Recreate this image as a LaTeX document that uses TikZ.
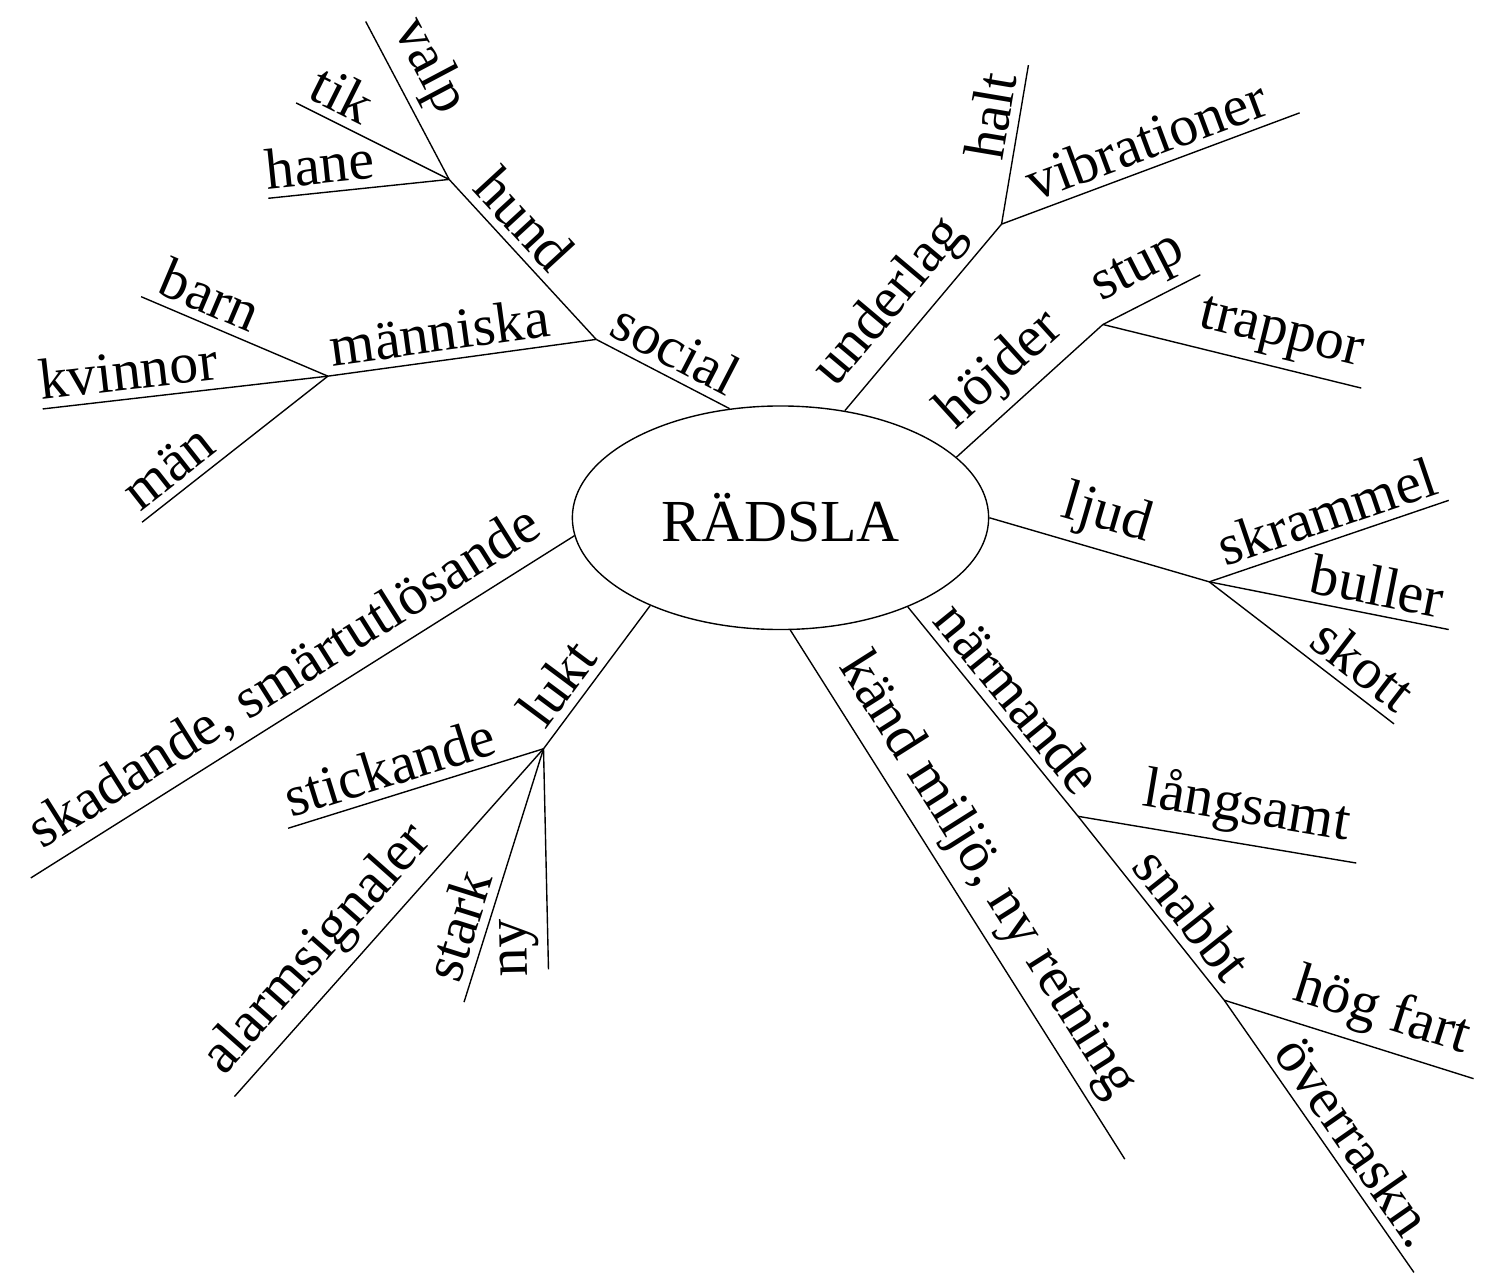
\documentclass[tikz,border=0pt]{standalone}
\usepackage{fontspec}
\setmainfont{Liberation Serif}
\usetikzlibrary{shapes.geometric}

\newcommand{\labfont}{\fontsize{29}{32}\selectfont}

\begin{document}
\begin{tikzpicture}[x=0.5pt,y=0.5pt,
	lbl/.style={sloped, above, inner sep=4pt, font=\labfont},
	twig/.style={line width=0.7pt}]
	\begin{scope}[yscale=-1,xscale=1]
	\useasboundingbox (0,0) rectangle (1486,1279);

	% Text Node
	\node [ellipse, draw, line width=0.7pt, minimum width=209.5pt, minimum height=112.5pt, inner sep=0pt, font=\fontsize{30}{34}\selectfont] (rad) at (785.5,517.5) {RÄDSLA};

	% Junctions and ends
	\coordinate (jsoc) at (600,338);
	\coordinate (jhund) at (452,177);
	\coordinate (jmann) at (330,375);
	\coordinate (evalp) at (368,18);
	\coordinate (etik) at (298,100);
	\coordinate (ehane) at (270,196);
	\coordinate (ebarn) at (142,295);
	\coordinate (ekvin) at (43,408);
	\coordinate (eman) at (143,522);
	\coordinate (eskad) at (31,880);
	\coordinate (jlukt) at (547,750);
	\coordinate (estick) at (290,830);
	\coordinate (ealarm) at (236,1100);
	\coordinate (estark) at (467,1005);
	\coordinate (eny) at (552,972);
	\coordinate (ekand) at (1132,1163);
	\coordinate (jnarm) at (1085,818);
	\coordinate (jsnabb) at (1232,1003);
	\coordinate (elangs) at (1365,865);
	\coordinate (ehog) at (1483,1082);
	\coordinate (eover) at (1423,1277);
	\coordinate (jljud) at (1217,582);
	\coordinate (eskram) at (1458,500);
	\coordinate (ebull) at (1458,630);
	\coordinate (eskott) at (1403,725);
	\coordinate (jhojd) at (1110,323);
	\coordinate (estup) at (1208,273);
	\coordinate (etrapp) at (1370,387);
	\coordinate (jund) at (1008,222);
	\coordinate (ehalt) at (1035,62);
	\coordinate (evib) at (1308,110);
	\end{scope}

	% Connection
	\draw [twig] (rad.115) -- node [lbl, pos=0.5] (tsocial) {social} (jsoc);
	\draw [twig] (jsoc) -- node [lbl, pos=0.63] (thund) {hund} (jhund);
	\draw [twig] (jhund) -- node [lbl, pos=0.61] (tvalp) {valp} (evalp);
	\draw [twig] (jhund) -- node [lbl, pos=0.78] (ttik) {tik} (etik);
	\draw [twig] (jhund) -- node [lbl, pos=0.7] (thane) {hane} (ehane);
	\draw [twig] (jsoc) -- node [lbl, pos=0.57] (tmann) {människa} (jmann);
	\draw [twig] (jmann) -- node [lbl, pos=0.69] (tbarn) {barn} (ebarn);
	\draw [twig] (jmann) -- node [lbl, pos=0.69] (tkvin) {kvinnor} (ekvin);
	\draw [twig] (jmann) -- node [lbl, pos=0.77] (tman) {män} (eman);
	% Connection
	\draw [twig] (rad.185) -- node [lbl, pos=0.5] (tskad) {skadande, smärtutlösande} (eskad);
	% Connection
	\draw [twig] (rad.214) -- node [lbl, pos=0.66] (tlukt) {lukt} (jlukt);
	\draw [twig] (jlukt) -- node [lbl, pos=0.57] (tstick) {stickande} (estick);
	\draw [twig] (jlukt) -- node [lbl, pos=0.645] (talarm) {alarmsignaler} (ealarm);
	\draw [twig] (jlukt) -- node [lbl, pos=0.73] (tstark) {stark} (estark);
	\draw [twig] (eny) -- node [lbl, allow upside down, pos=0.1] (tny) {ny} (jlukt);
	% Connection
	\draw [twig] (rad.275.6) -- node [lbl, pos=0.5] (tkand) {känd miljö, ny retning} (ekand);
	% Connection
	\draw [twig] (rad.325) -- node [lbl, pos=0.52] (tnarm) {närmande} (jnarm);
	\draw [twig] (jnarm) -- node [lbl, pos=0.63] (tsnabb) {snabbt} (jsnabb);
	\draw [twig] (jnarm) -- node [lbl, pos=0.585] (tlangs) {långsamt} (elangs);
	\draw [twig] (jsnabb) -- node [lbl, pos=0.59] (thog) {hög fart} (ehog);
	\draw [twig] (jsnabb) -- node [lbl, pos=0.58] (tover) {överraskn.} (eover);
	% Connection
	\draw [twig] (rad.0) -- node [lbl, pos=0.49] (tljud) {ljud} (jljud);
	\draw [twig] (jljud) -- node [lbl, pos=0.53] (tskram) {skrammel} (eskram);
	\draw [twig] (jljud) -- node [lbl, pos=0.68] (tbull) {buller} (ebull);
	\draw [twig] (jljud) -- node [lbl, pos=0.74] (tskott) {skott} (eskott);
	% Connection
	\draw [twig] (rad.19.8) -- node [lbl, pos=0.46] (thojd) {höjder} (jhojd);
	\draw [twig] (jhojd) -- node [lbl, pos=0.52] (tstup) {stup} (estup);
	\draw [twig] (jhojd) -- node [lbl, pos=0.66] (ttrapp) {trappor} (etrapp);
	% Connection
	\draw [twig] (rad.59.7) -- node [lbl, pos=0.46] (tund) {underlag} (jund);
	\draw [twig] (jund) -- node [lbl, pos=0.65] (thalt) {halt} (ehalt);
	\draw [twig] (jund) -- node [lbl, pos=0.52] (tvib) {vibrationer} (evib);

\end{tikzpicture}
\end{document}
